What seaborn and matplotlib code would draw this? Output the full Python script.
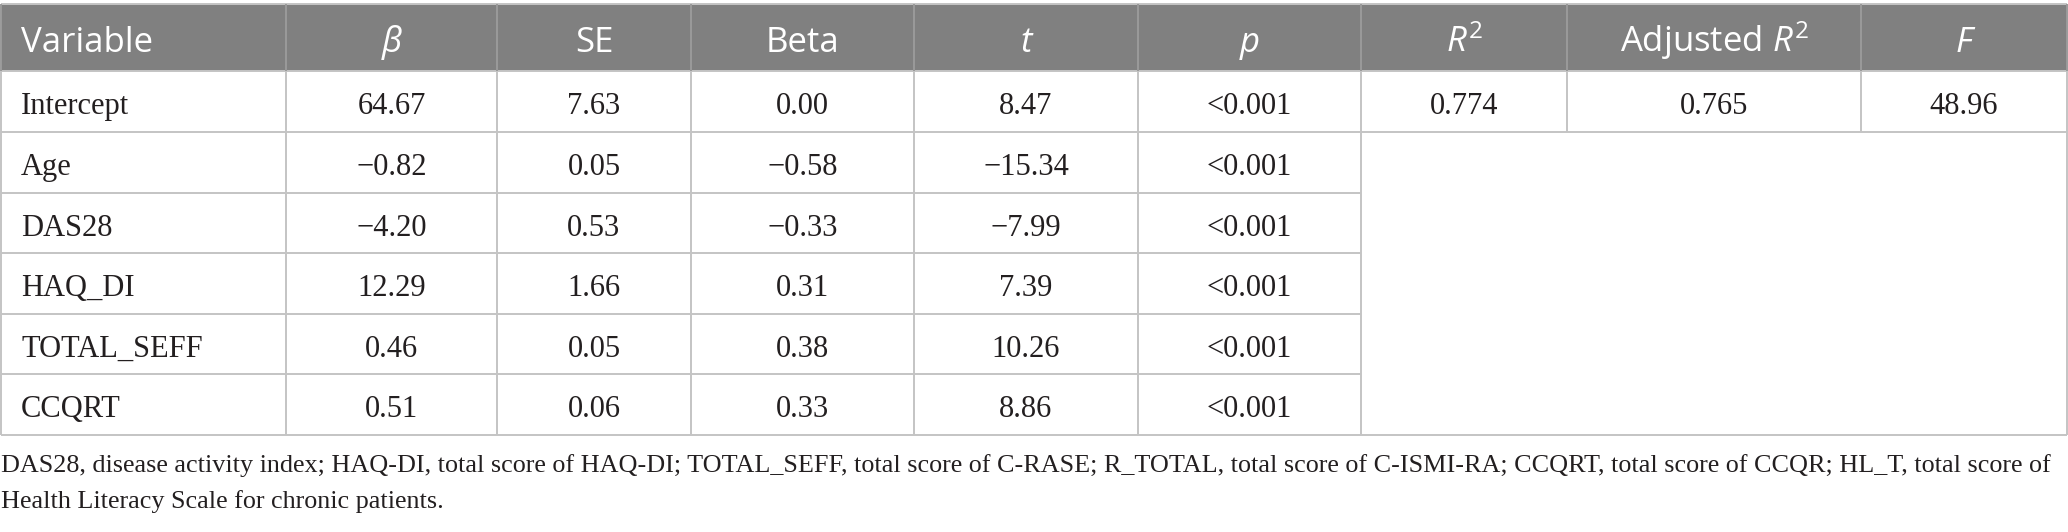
#!/usr/bin/env python3
"""Regression table: predictors of the outcome score, drawn as a figure."""

import matplotlib as mpl
import matplotlib.pyplot as plt
import seaborn as sns
from matplotlib.patches import Rectangle

mpl.use("Agg")

# Table contents
COLUMNS = ["Variable", "β", "SE", "Beta", "t", "p",
           r"$\mathit{R}^{\mathrm{2}}$", r"Adjusted $\mathit{R}^{\mathrm{2}}$", "F"]
ITALIC_HEADERS = ["β", "t", "p", "F"]
variables = ["Intercept", "Age", "DAS28", "HAQ_DI", "TOTAL_SEFF", "CCQRT"]
beta = ["64.67", "−0.82", "−4.20", "12.29", "0.46", "0.51"]
se = ["7.63", "0.05", "0.53", "1.66", "0.05", "0.06"]
std_beta = ["0.00", "−0.58", "−0.33", "0.31", "0.38", "0.33"]
t_vals = ["8.47", "−15.34", "−7.99", "7.39", "10.26", "8.86"]
p_vals = ["<0.001"] * 6
r2 = "0.774"
adj_r2 = "0.765"
f_val = "48.96"
FOOTNOTE = [
    "DAS28, disease activity index; HAQ-DI, total score of HAQ-DI; TOTAL_SEFF, "
    "total score of C-RASE; R_TOTAL, total score of C-ISMI-RA; CCQRT, total "
    "score of CCQR; HL_T, total score of",
    "Health Literacy Scale for chronic patients.",
]

# Layout in pixels
W, H = 2068, 532
COL_EDGES = [1, 286, 497, 691, 914, 1138, 1361, 1567, 1861, 2067]
ROW_EDGES = [4, 71, 132, 193, 253, 314, 374, 435]
HEADER_BG = "#808080"
LINE = "#c4c4c4"
TEXT = "#231f20"

sns.set_theme(style="white")
plt.rcParams["mathtext.fontset"] = "custom"
plt.rcParams["mathtext.rm"] = "Open Sans"
plt.rcParams["mathtext.it"] = "Open Sans:italic"


def cell_text(ax, col, row, s, base, **kw):
    """Put text on the baseline `base` px below the top of the row."""
    x0, x1 = COL_EDGES[col], COL_EDGES[col + 1]
    y = ROW_EDGES[row] + base
    if col == 0:
        ax.text(x0 + 20, y, s, ha="left", va="baseline", **kw)
    else:
        ax.text((x0 + x1) / 2, y, s, ha="center", va="baseline", **kw)


def main():
    fig = plt.figure(figsize=(W / 100, H / 100), dpi=100)
    ax = fig.add_axes([0, 0, 1, 1])
    ax.set_xlim(0, W)
    ax.set_ylim(H, 0)
    ax.axis("off")

    # Header band
    ax.add_patch(Rectangle((COL_EDGES[0], ROW_EDGES[0]),
                           COL_EDGES[-1] - COL_EDGES[0],
                           ROW_EDGES[1] - ROW_EDGES[0],
                           facecolor=HEADER_BG, edgecolor="none", zorder=0))
    head = dict(family="Open Sans", fontsize=25, color="white")
    for i, name in enumerate(COLUMNS):
        style = "italic" if name in ITALIC_HEADERS else "normal"
        cell_text(ax, i, 0, name, 48, fontstyle=style, **head)

    # Body
    body = dict(family="Liberation Serif", fontsize=22, color=TEXT)
    cols = [variables, beta, se, std_beta, t_vals, p_vals]
    for r in range(len(variables)):
        for c, values in enumerate(cols):
            cell_text(ax, c, r + 1, values[r], 43, **body)
    for c, v in zip([6, 7, 8], [r2, adj_r2, f_val]):
        cell_text(ax, c, 1, v, 43, **body)

    # Grid lines
    lw = 1.4
    top, bot = ROW_EDGES[0], ROW_EDGES[-1]
    ax.hlines(top, COL_EDGES[0], COL_EDGES[-1], color=LINE, lw=lw)
    ax.hlines(bot, COL_EDGES[0], COL_EDGES[-1], color=LINE, lw=lw)
    ax.hlines(ROW_EDGES[2], COL_EDGES[0], COL_EDGES[-1], color=LINE, lw=lw)
    ax.hlines(ROW_EDGES[3:-1], COL_EDGES[0], COL_EDGES[6], color=LINE, lw=lw)
    ax.hlines(ROW_EDGES[1], COL_EDGES[0], COL_EDGES[-1], color=LINE, lw=lw)
    for i, x in enumerate(COL_EDGES):
        y_end = ROW_EDGES[2] if 6 < i < len(COL_EDGES) - 1 else bot
        ax.vlines(x, top, ROW_EDGES[1], color="#9a9a9a", lw=lw)
        ax.vlines(x, ROW_EDGES[1], y_end, color=LINE, lw=lw)

    # Footnote, scaled so the first line fills the width
    note = dict(family="Liberation Serif", color=TEXT)
    t1 = ax.text(COL_EDGES[0], 472, FOOTNOTE[0], fontsize=20,
                 ha="left", va="baseline", **note)
    fig.canvas.draw()
    width = t1.get_window_extent().width
    size = 20 * 2050 / width
    t1.set_fontsize(size)
    ax.text(COL_EDGES[0], 508, FOOTNOTE[1], fontsize=size,
            ha="left", va="baseline", **note)

    fig.savefig("out.png", dpi=100)


if __name__ == "__main__":
    main()
